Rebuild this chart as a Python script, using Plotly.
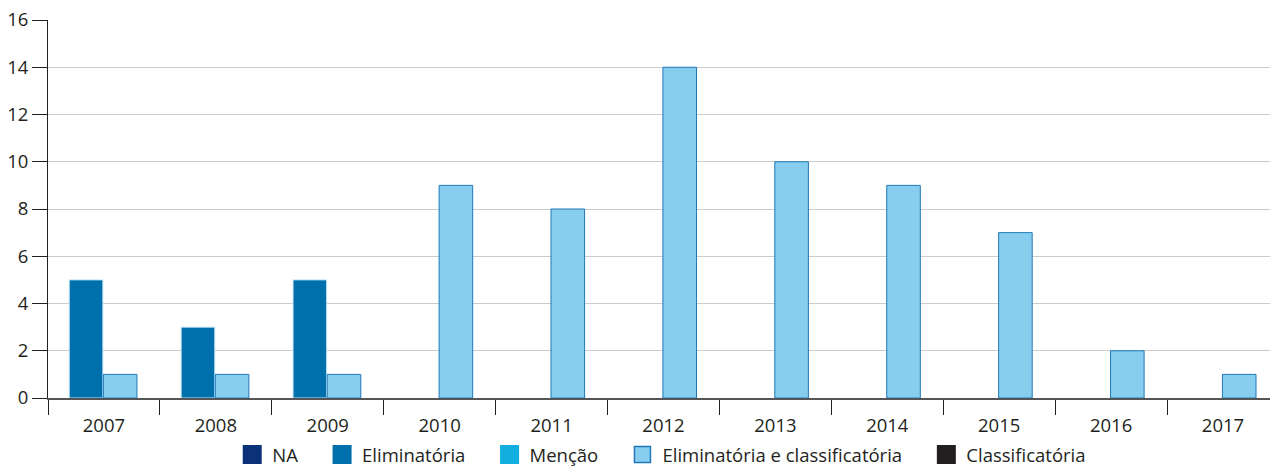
import plotly.graph_objects as go

years = ["2007", "2008", "2009", "2010", "2011", "2012", "2013", "2014", "2015", "2016", "2017"]
eliminatoria = [5, 3, 5, None, None, None, None, None, None, None, None]
elim_class = [1, 1, 1, 9, 8, 14, 10, 9, 7, 2, 1]
y_ticks = [0, 2, 4, 6, 8, 10, 12, 14, 16]

FONT = "Open Sans"
FS = 18.5
PAD = "\u00a0\u00a0\u00a0\u00a0"
fig = go.Figure()

def legend_entry(name, color, line_color=None, line_width=3):
    fig.add_trace(go.Scatter(x=[None], y=[None], mode="markers", name=name + PAD,
                             marker=dict(symbol="square", size=16, color=color,
                                         line=dict(width=line_width, color=line_color or color)),
                             showlegend=True, hoverinfo="skip"))

fig.add_trace(go.Bar(x=years, y=eliminatoria, name="Eliminatória", showlegend=False,
                     marker=dict(color="#0070AD", line=dict(color="#bfe0f2", width=1)),
                     offset=-0.31, width=0.30))
fig.add_trace(go.Bar(x=years, y=elim_class, name="Eliminatória e classificatória", showlegend=False,
                     marker=dict(color="#87CEEE", line=dict(color="#1F78B8", width=1)),
                     offset=-0.005, width=0.30))

legend_entry("NA", "#0B3279")
legend_entry("Eliminatória", "#0070AD")
legend_entry("Menção", "#12AEE0")
legend_entry("Eliminatória e classificatória", "#87CEEE", "#1F78B8", 1.5)
legend_entry("Classificatória", "#231F20")

fig.update_layout(
    width=1270, height=474,
    margin=dict(l=48, r=0, t=20, b=76, autoexpand=False),
    barmode="overlay",
    plot_bgcolor="white", paper_bgcolor="white",
    font=dict(family=FONT, size=FS, color="#231F20"),
    showlegend=True,
    legend=dict(orientation="h", x=0.51, xanchor="center", xref="paper",
                yref="container", y=0, yanchor="bottom",
                font=dict(family=FONT, size=FS, color="#231F20"),
                itemwidth=30, tracegroupgap=0),
    xaxis=dict(type="category", range=[-0.5, 10.42], tickson="boundaries",
               ticks="outside", ticklen=15, tickcolor="#231F20", tickwidth=1,
               ticklabelstandoff=10,
               showgrid=False, showline=True, linecolor="#555555", linewidth=2,
               tickfont=dict(size=FS), fixedrange=True),
    yaxis=dict(range=[0, 16], tickvals=y_ticks, ticks="outside", ticklen=15,
               tickcolor="#231F20", tickwidth=1, showline=True, linecolor="#231F20",
               linewidth=1, gridcolor="#CCCCCC", gridwidth=1, zeroline=False,
               tickfont=dict(size=FS)),
)

fig.write_html("out.html")
